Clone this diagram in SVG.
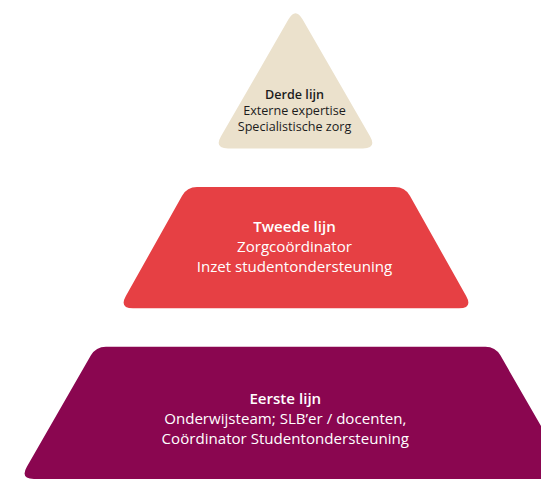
<svg xmlns="http://www.w3.org/2000/svg" width="541" height="479" viewBox="0 0 541 479">
  <style>
    .lbl { font-family: "Open Sans", "Noto Sans", "DejaVu Sans", sans-serif; text-anchor: middle; }
    .head { font-weight: 600; }
    .dark { fill: #1c1c1c; font-size: 12.6px; }
    .light { fill: #ffffff; font-size: 15.1px; }
  </style>
  <rect width="541" height="479" fill="#ffffff"/>

  <!-- Top tier: external expertise -->
  <g id="derde-lijn">
    <path d="M288.5,19.33 Q295.5,7.2 302.5,19.33 L370,136.37 Q377,148.5 363,148.5 L228,148.5 Q214,148.5 221,136.37 Z" fill="#ebe1cc"/>
    <text class="lbl dark head" x="294.5" y="98.7">Derde lijn</text>
    <text class="lbl dark" x="294.5" y="115">Externe expertise</text>
    <text class="lbl dark" x="294.5" y="131">Specialistische zorg</text>
  </g>

  <!-- Middle tier: care coordination -->
  <g id="tweede-lijn">
    <path d="M197,187 L395,187 Q405,187 409.89,195.72 L466.15,296.09 Q473,308.3 459,308.3 L133,308.3 Q119,308.3 125.85,296.09 L182.11,195.72 Q187,187 197,187 Z" fill="#e64044"/>
    <text class="lbl light head" x="294.5" y="231.7">Tweede lijn</text>
    <text class="lbl light" x="294.5" y="251.5">Zorgcoördinator</text>
    <text class="lbl light" x="294.5" y="272">Inzet studentondersteuning</text>
  </g>

  <!-- Base tier: teaching teams -->
  <g id="eerste-lijn">
    <path d="M105.9,346.7 L485.4,346.7 Q495.4,346.7 500.38,355.37 L564.43,466.86 Q571.4,479 557.4,479 L33.9,479 Q19.9,479 26.87,466.86 L90.92,355.37 Q95.9,346.7 105.9,346.7 Z" fill="#8a0650"/>
    <text class="lbl light head" x="285.3" y="404">Eerste lijn</text>
    <text class="lbl light" x="285.3" y="424.3">Onderwijsteam; SLB’er / docenten,</text>
    <text class="lbl light" x="285.3" y="444.3">Coördinator Studentondersteuning</text>
  </g>

  <!-- no connectors in this figure -->
  <g id="connectors"/>
</svg>
